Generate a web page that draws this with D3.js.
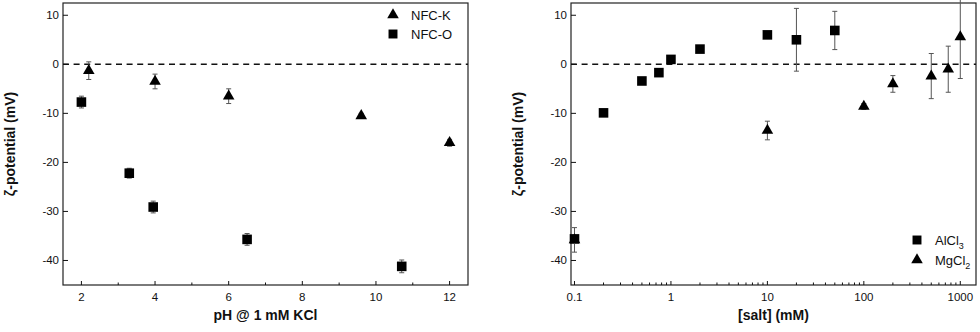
<!DOCTYPE html>
<html>
<head>
<meta charset="utf-8">
<script src="https://cdn.jsdelivr.net/npm/d3@7"></script>
<style>
  body { margin: 0; background: #fff; }
  svg { display: block; font-family: "Liberation Sans", Arial, sans-serif; }
</style>
</head>
<body>
<svg width="980" height="332"></svg>
<script>
// left panel: zeta potential vs pH
const nfcK_pH   = [2.2, 4.0, 6.0, 9.6, 12.0];
const nfcK_zeta = [-1.3, -3.5, -6.5, -10.5, -16.0];
const nfcK_err  = [1.8, 1.5, 1.5, 0.5, 0.7];
const nfcO_pH   = [2.0, 3.3, 3.95, 6.5, 10.7];
const nfcO_zeta = [-7.7, -22.2, -29.1, -35.7, -41.2];
const nfcO_err  = [1.2, 1.0, 1.2, 1.2, 1.3];

// right panel: zeta potential vs salt concentration
const alcl3_salt = [0.1, 0.2, 0.5, 0.75, 1, 2, 10, 20, 50];
const alcl3_zeta = [-35.6, -9.9, -3.4, -1.7, 1.0, 3.1, 6.0, 5.0, 6.9];
const alcl3_err  = [0.3, 0.3, 0.3, 0.3, 0.3, 0.3, 0.3, 6.4, 3.9];
const mgcl2_salt = [0.1, 10, 100, 200, 500, 750, 1000];
const mgcl2_zeta = [-35.8, -13.5, -8.6, -4.0, -2.4, -1.0, 5.6];
const mgcl2_err  = [2.5, 1.9, 0.6, 1.7, 4.6, 4.7, 8.5];

const yTicks = [-40, -30, -20, -10, 0, 10];
const phTicks = [2, 4, 6, 8, 10, 12];
const phMinor = [3, 5, 7, 9, 11];
const saltTicks = [0.1, 1, 10, 100, 1000];

const svg = d3.select("svg");
const plotTop = 3, plotBottom = 285;
const ink = "#111";

const y = d3.scaleLinear().domain([-45, 12.5]).range([plotBottom, plotTop]);

const zip = (xs, ys, es) => xs.map((v, i) => ({x: v, y: ys[i], e: es[i]}));

function frame(left, right) {
  svg.append("rect")
    .attr("x", left).attr("y", plotTop)
    .attr("width", right - left).attr("height", plotBottom - plotTop)
    .attr("fill", "none").attr("stroke", "#222").attr("stroke-width", 1.2);

  // zero line
  svg.append("line")
    .attr("x1", left).attr("x2", right)
    .attr("y1", y(0)).attr("y2", y(0))
    .attr("stroke", ink).attr("stroke-width", 1.4)
    .attr("stroke-dasharray", "6,4.6");

  // y ticks (inward)
  const ya = svg.append("g");
  yTicks.forEach(t => {
    ya.append("line").attr("x1", left).attr("x2", left + 5)
      .attr("y1", y(t)).attr("y2", y(t)).attr("stroke", ink).attr("stroke-width", 1);
    ya.append("text").attr("x", left - 4).attr("y", y(t) + 4)
      .attr("text-anchor", "end").attr("font-size", 11.5).attr("fill", ink).text(t);
  });

  svg.append("text")
    .attr("transform", `translate(${left - 48},${(plotTop + plotBottom) / 2}) rotate(-90)`)
    .attr("text-anchor", "middle").attr("font-size", 14).attr("font-weight", "bold")
    .attr("fill", ink).text("ζ-potential (mV)");
}

function xTicks(x, major, minor, fmt) {
  major.forEach(t => {
    svg.append("line").attr("x1", x(t)).attr("x2", x(t))
      .attr("y1", plotBottom).attr("y2", plotBottom - 4).attr("stroke", ink);
    svg.append("text").attr("x", x(t)).attr("y", 301)
      .attr("text-anchor", "middle").attr("font-size", 11.5).attr("fill", ink).text(fmt(t));
  });
  minor.forEach(t => {
    svg.append("line").attr("x1", x(t)).attr("x2", x(t))
      .attr("y1", plotBottom).attr("y2", plotBottom - 2.5).attr("stroke", ink);
  });
}

function points(x, data, shape) {
  const g = svg.append("g");
  data.forEach(d => {
    const cx = x(d.x);
    g.append("line").attr("x1", cx).attr("x2", cx)
      .attr("y1", y(d.y + d.e)).attr("y2", y(d.y - d.e))
      .attr("stroke", "#555").attr("stroke-width", 1);
    [d.y + d.e, d.y - d.e].forEach(v => {
      g.append("line").attr("x1", cx - 2.5).attr("x2", cx + 2.5)
        .attr("y1", y(v)).attr("y2", y(v)).attr("stroke", "#555").attr("stroke-width", 1);
    });
  });
  g.selectAll("path.m").data(data).enter().append("path")
    .attr("class", "m")
    .attr("d", d3.symbol().type(shape === "tri" ? d3.symbolTriangle : d3.symbolSquare)
      .size(shape === "tri" ? 58 : 92))
    .attr("transform", d => `translate(${x(d.x)},${y(d.y)})`)
    .attr("fill", "#000");
}

function legendItem(x0, y0, shape, label, sub) {
  svg.append("path")
    .attr("d", d3.symbol().type(shape === "tri" ? d3.symbolTriangle : d3.symbolSquare)
      .size(shape === "tri" ? 58 : 80))
    .attr("transform", `translate(${x0},${y0})`).attr("fill", "#000");
  const t = svg.append("text").attr("x", x0 + 18).attr("y", y0 + 4.5)
    .attr("font-size", 13).attr("fill", ink).text(label);
  if (sub) t.append("tspan").attr("dy", 4).attr("font-size", 9).text(sub);
}

// ---- left panel
const xL = d3.scaleLinear().domain([1.5, 12.5]).range([63, 468]);
frame(63, 468);
xTicks(xL, phTicks, phMinor, d => d);
points(xL, zip(nfcO_pH, nfcO_zeta, nfcO_err), "sq");
points(xL, zip(nfcK_pH, nfcK_zeta, nfcK_err), "tri");
svg.append("text").attr("x", (63 + 468) / 2).attr("y", 320)
  .attr("text-anchor", "middle").attr("font-size", 14).attr("font-weight", "bold")
  .attr("fill", ink).text("pH @ 1 mM KCl");
legendItem(393, 15, "tri", "NFC-K");
legendItem(393, 34, "sq", "NFC-O");

// ---- right panel
const xR = d3.scaleLog().domain([0.092, 1455]).range([571, 976]);
frame(571, 976);
const saltMinor = [];
saltTicks.slice(0, 4).forEach(dec => { for (let k = 2; k <= 9; k++) saltMinor.push(dec * k); });
xTicks(xR, saltTicks, saltMinor, d => d3.format("~g")(d));
points(xR, zip(alcl3_salt, alcl3_zeta, alcl3_err), "sq");
points(xR, zip(mgcl2_salt, mgcl2_zeta, mgcl2_err), "tri");
svg.append("text").attr("x", (571 + 976) / 2).attr("y", 320)
  .attr("text-anchor", "middle").attr("font-size", 14).attr("font-weight", "bold")
  .attr("fill", ink).text("[salt] (mM)");
legendItem(917, 240, "sq", "AlCl", "3");
legendItem(917, 260, "tri", "MgCl", "2");
</script>
</body>
</html>
